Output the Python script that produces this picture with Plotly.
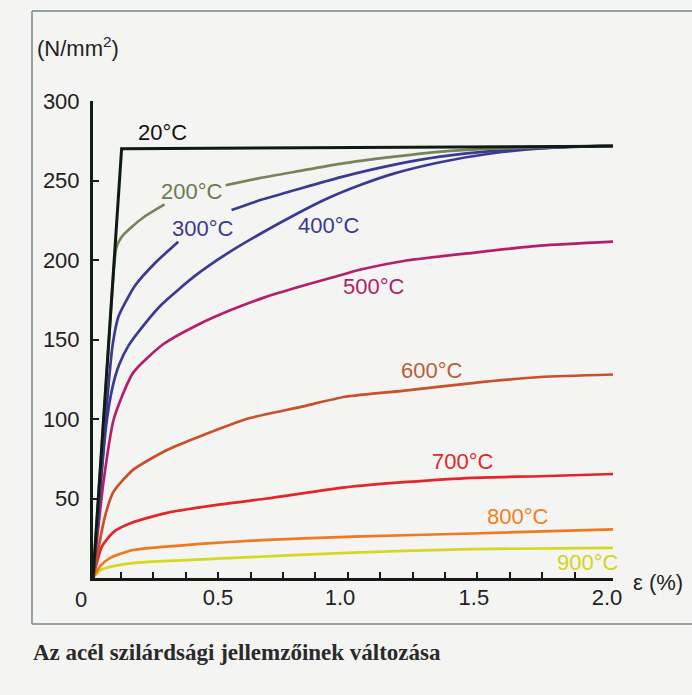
import plotly.graph_objects as go

# ---------------- data ----------------
strain_20 = [0, 0.11, 2.0]
stress_20 = [0, 270, 271.5]

strain_200 = [0, 0.075, 0.09, 0.11, 0.14, 0.2, 0.275, None, 0.51, 0.64, 0.777, 0.95, 1.16, 1.33, 1.53, 1.75, 2.0]
stress_200 = [0, 183, 208, 214.5, 219.5, 227.5, 235, None, 247, 251.5, 255.5, 260.5, 265, 268, 270, 271, 272]

strain_300 = [0, 0.035, 0.06, 0.075, 0.097, 0.13, 0.162, 0.238, 0.328, None, 0.533, 0.65, 0.777, 0.95, 1.16, 1.335, 1.53, 1.75, 2.0]
stress_300 = [0, 72, 122, 146, 164, 175, 184, 198, 211.5, None, 231.4, 238, 244, 252, 260, 265, 268.5, 270.5, 272]

strain_400 = [0, 0.05, 0.075, 0.1, 0.136, 0.2, 0.264, 0.392, 0.52, 0.649, 0.777, 0.905, 1.033, 1.16, 1.335, 1.53, 1.75, 2.0]
stress_400 = [0, 95, 120, 134, 146, 160, 172, 190, 204.5, 217, 228.5, 239, 247.5, 254.5, 261.5, 267, 270.5, 272]

strain_500 = [0, 0.04, 0.08, 0.154, 0.27, 0.4, 0.53, 0.66, 0.79, 0.92, 1.03, 1.2, 1.46, 1.72, 2.0]
stress_500 = [0, 60, 100, 129, 147, 159, 168.5, 176.5, 183, 189, 194, 199.5, 204.5, 209, 211.5]

strain_600 = [0, 0.045, 0.078, 0.154, 0.285, 0.41, 0.604, 0.796, 0.97, 1.208, 1.46, 1.72, 2.0]
stress_600 = [0, 38, 54, 68, 80.5, 89, 100.6, 107.5, 114, 118, 122.6, 126.4, 128]

strain_700 = [0, 0.035, 0.08, 0.154, 0.285, 0.477, 0.669, 0.97, 1.21, 1.46, 1.72, 2.0]
stress_700 = [0, 20, 29, 35, 41, 46, 50, 57, 60.4, 63, 64, 65.4]

strain_800 = [0, 0.03, 0.065, 0.154, 0.41, 0.669, 1.0, 1.46, 2.0]
stress_800 = [0, 8, 12.5, 17.6, 21.4, 24, 26, 28, 30.6]

strain_900 = [0, 0.03, 0.065, 0.154, 0.54, 1.0, 1.46, 2.0]
stress_900 = [0, 5, 7, 9.4, 12.6, 16, 18.2, 19]

temp_labels = ["20°C", "200°C", "300°C", "400°C", "500°C", "600°C", "700°C", "800°C", "900°C"]
x_tick_labels = ["0.5", "1.0", "1.5", "2.0"]
y_tick_labels = ["50", "100", "150", "200", "250", "300"]
y_tick_values = [50, 100, 150, 200, 250, 300]

# ---------------- styling ----------------
BG = "#f4f4f2"
FONT = "Liberation Sans, Arial, sans-serif"
line_colors = ["#0f1a14", "#76845a", "#3a3a92", "#3a3a92", "#b51f6a",
               "#c8502a", "#e2262a", "#f0781e", "#d6d81e"]
label_colors = ["#111111", "#6b7a4b", "#3a3a90", "#3a3a90", "#b01f6a",
                "#b8603c", "#e02828", "#f08020", "#d2d41e"]
series = [
    (strain_20, stress_20), (strain_200, stress_200), (strain_300, stress_300),
    (strain_400, stress_400), (strain_500, stress_500), (strain_600, stress_600),
    (strain_700, stress_700), (strain_800, stress_800), (strain_900, stress_900),
]

fig = go.Figure()
for i in reversed(range(len(series))):
    xs, ys = series[i]
    is_20 = (i == 0)
    fig.add_trace(go.Scatter(
        x=xs, y=ys, mode="lines", name=temp_labels[i],
        line=dict(color=line_colors[i], width=3 if is_20 else 2.7,
                  shape="linear" if is_20 else "spline", smoothing=0.6),
        connectgaps=False, hoverinfo="skip", showlegend=False,
    ))

# plot area in pixels: x 93..613, y 101..578
L, R, T, B = 93, 613, 101, 578
def px(xp):
    return (xp - L) / (R - L)
def py(yp):
    return (B - yp) / (B - T)

# temperature labels (pixel centres from the reference)
label_px = [(162, 133), (192, 191), (203, 228), (329, 225), (374, 286),
            (432, 370), (463, 461), (518, 516), (588, 562)]
for (lx, ly), txt, col in zip(label_px, temp_labels, label_colors):
    fig.add_annotation(x=px(lx), y=py(ly), xref="paper", yref="paper", text=txt,
                       showarrow=False, font=dict(family=FONT, size=22, color=col),
                       xanchor="center", yanchor="middle")

# axis titles and the corner zero
fig.add_annotation(x=px(658), y=py(582), xref="paper", yref="paper", text="ε (%)",
                   showarrow=False, font=dict(family=FONT, size=22, color="#222222"),
                   xanchor="center", yanchor="middle")
fig.add_annotation(x=px(78), y=py(47), xref="paper", yref="paper",
                   text="(N/mm<sup>2</sup>)", showarrow=False,
                   font=dict(family=FONT, size=22, color="#222222"),
                   xanchor="center", yanchor="middle")
fig.add_annotation(x=px(81), y=py(599), xref="paper", yref="paper", text="0",
                   showarrow=False, font=dict(family=FONT, size=22, color="#222222"),
                   xanchor="center", yanchor="middle")

# caption
fig.add_annotation(x=px(31), y=py(652), xref="paper", yref="paper",
                   text="<b>Az acél szilárdsági jellemzőinek változása</b>",
                   showarrow=False, xanchor="left", yanchor="middle",
                   font=dict(family="Liberation Serif, Times New Roman, serif", size=23,
                             color="#2a2a2a"))

# frame around the chart
frame_col = "#93a2a0"
fig.add_shape(type="line", xref="paper", yref="paper", x0=px(32), x1=px(692),
              y0=py(11), y1=py(11), line=dict(color=frame_col, width=2))
fig.add_shape(type="line", xref="paper", yref="paper", x0=px(32), x1=px(692),
              y0=py(624), y1=py(624), line=dict(color=frame_col, width=2))
fig.add_shape(type="line", xref="paper", yref="paper", x0=px(32), x1=px(32),
              y0=py(624), y1=py(11), line=dict(color=frame_col, width=2))

x_tick_pos = [0.481, 0.95, 1.465, 1.977]
minor_x = [0.1077 + 0.1246 * k for k in range(15)]

fig.update_xaxes(
    range=[0, 2.0], showgrid=False, zeroline=False,
    showline=True, linecolor="#151a18", linewidth=3,
    tickmode="array", tickvals=x_tick_pos, ticktext=x_tick_labels, ticks="",
    ticklabelstandoff=-2,
    tickfont=dict(family=FONT, size=22, color="#222222"),
    minor=dict(tickmode="array", tickvals=minor_x, ticks="inside", ticklen=6,
               tickwidth=2, tickcolor="#151a18", showgrid=False),
)
fig.update_yaxes(
    range=[0, 300], showgrid=False, zeroline=False,
    showline=True, linecolor="#0f1f18", linewidth=3,
    tickmode="array", tickvals=y_tick_values, ticktext=y_tick_labels, ticks="",
    ticklabelstandoff=6,
    tickfont=dict(family=FONT, size=22, color="#222222"),
    minor=dict(tickmode="array", tickvals=[50, 100, 150, 200, 250], ticks="inside",
               ticklen=6, tickwidth=2, tickcolor="#0f1f18", showgrid=False),
)

fig.update_layout(
    width=692, height=695,
    margin=dict(l=L, r=692 - R, t=T, b=695 - B),
    paper_bgcolor=BG, plot_bgcolor="rgba(0,0,0,0)",
    showlegend=False,
)

fig.write_html("out.html", config={"displayModeBar": False},
               post_script="document.body.style.margin='0px';"
                           "document.body.style.background='" + BG + "';")
